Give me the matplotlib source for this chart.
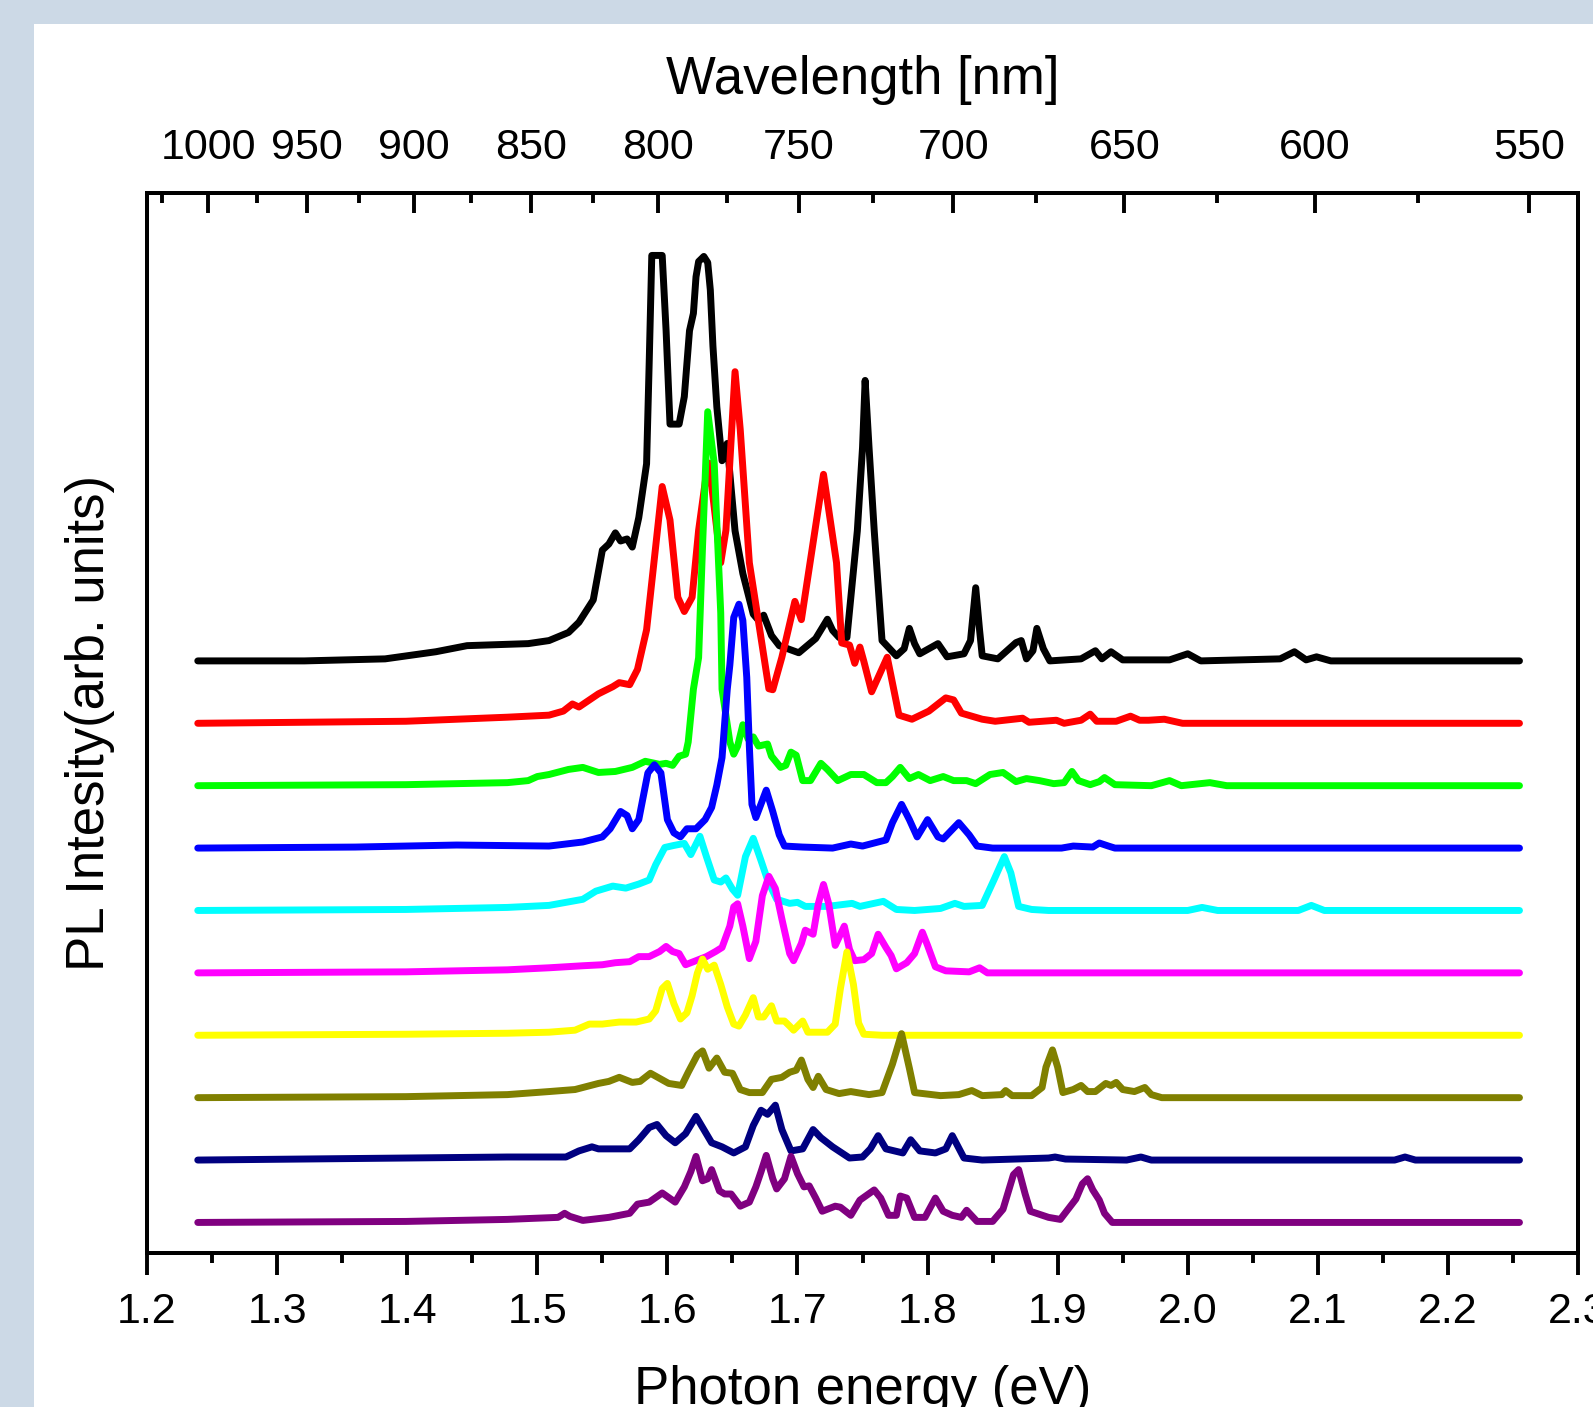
import matplotlib.pyplot as plt
from matplotlib.patches import Rectangle
from matplotlib.ticker import MultipleLocator, FormatStrFormatter

plt.rcParams['font.family'] = ['Liberation Sans', 'DejaVu Sans']

# PL spectra, photon energy (eV) vs intensity (arb. units, own baseline = 0)
black_e = [1.239, 1.321, 1.383, 1.422, 1.446, 1.493, 1.509, 1.524, 1.532, 1.543,
           1.550, 1.555, 1.560, 1.564, 1.569, 1.573, 1.578, 1.584, 1.586, 1.588,
           1.596, 1.599, 1.602, 1.609, 1.613, 1.617, 1.620, 1.622, 1.624, 1.628,
           1.631, 1.633, 1.635,
           1.638, 1.642, 1.646, 1.649, 1.652, 1.658, 1.666, 1.670, 1.674, 1.680,
           1.686, 1.701, 1.714, 1.723, 1.727, 1.732, 1.738, 1.746, 1.750, 1.752,
           1.755, 1.759, 1.765, 1.776, 1.782, 1.786, 1.790, 1.794, 1.808, 1.815,
           1.828, 1.833, 1.837, 1.840, 1.842, 1.854, 1.868, 1.872, 1.876, 1.881,
           1.884, 1.889, 1.894, 1.918, 1.929, 1.934, 1.941, 1.950, 1.986, 2.000,
           2.010, 2.071, 2.082, 2.091, 2.099, 2.110, 2.255]
black_i = [0, 0, 2, 9, 15, 17, 20, 28, 38, 60,
           109, 115, 126, 118, 120, 112, 141, 194, 293, 399,
           399, 325, 233, 233, 260, 325, 342, 378, 393, 398,
           392, 365, 310,
           250, 197, 214, 170, 128, 86, 46, 40, 45, 25,
           15, 8, 22, 41, 30, 23, 23, 128, 210, 276,
           210, 128, 20, 5, 12, 32, 17, 7, 17, 4,
           7, 20, 72, 30, 5, 2, 18, 20, 2, 10,
           32, 12, 0, 2, 10, 2, 9, 1, 1, 7,
           0, 2, 9, 1, 4, 0, 0]

red_e = [1.239, 1.399, 1.477, 1.509, 1.520, 1.527, 1.532, 1.547, 1.558, 1.563,
         1.571, 1.577, 1.584, 1.591, 1.596, 1.602, 1.608, 1.613, 1.619, 1.624,
         1.630, 1.632, 1.641, 1.645, 1.652, 1.656, 1.663, 1.671, 1.678, 1.681,
         1.688, 1.698, 1.703, 1.720, 1.730, 1.734, 1.740, 1.744, 1.748, 1.751,
         1.757, 1.769, 1.778, 1.788, 1.801, 1.814, 1.820, 1.826, 1.842, 1.852,
         1.873, 1.878, 1.899, 1.905, 1.918, 1.925, 1.930, 1.945, 1.956, 1.963,
         1.970, 1.982, 1.996, 2.255]
red_i = [0, 2, 6, 8, 12, 19, 16, 29, 36, 40,
         38, 53, 92, 174, 233, 200, 124, 110, 124, 190,
         246, 256, 158, 190, 346, 289, 158, 92, 34, 33,
         65, 120, 102, 245, 158, 79, 77, 59, 75, 61,
         31, 65, 8, 4, 12, 25, 23, 10, 4, 2,
         5, 1, 3, 0, 3, 9, 2, 2, 7, 3,
         3, 4, 0, 0]

green_e = [1.239, 1.399, 1.477, 1.493, 1.500, 1.509, 1.524, 1.535, 1.547, 1.560,
           1.573, 1.583, 1.594, 1.599, 1.604, 1.609, 1.614, 1.616, 1.620, 1.624,
           1.627, 1.631, 1.636, 1.641, 1.642, 1.648, 1.651, 1.654, 1.658, 1.662,
           1.666, 1.670, 1.677, 1.680, 1.687, 1.691, 1.695, 1.699, 1.704, 1.710,
           1.718, 1.723, 1.731, 1.741, 1.751, 1.761, 1.768, 1.773, 1.779, 1.786,
           1.793, 1.802, 1.812, 1.820, 1.830, 1.837, 1.848, 1.858, 1.868, 1.876,
           1.886, 1.897, 1.905, 1.911, 1.916, 1.925, 1.932, 1.936, 1.944, 1.972,
           1.986, 1.995, 2.017, 2.030, 2.255]
green_i = [0, 1, 3, 5, 9, 11, 16, 18, 13, 14,
           18, 24, 21, 22, 20, 29, 31, 43, 95, 126,
           235, 368, 317, 170, 95, 43, 31, 39, 60, 46,
           48, 39, 41, 29, 18, 20, 33, 30, 5, 5,
           22, 16, 5, 11, 11, 3, 3, 9, 18, 7,
           11, 5, 9, 5, 5, 2, 11, 13, 4, 7,
           5, 2, 3, 14, 5, 1, 4, 8, 1, 0,
           5, 0, 3, 0, 0]

blue_e = [1.239, 1.360, 1.438, 1.509, 1.535, 1.550, 1.556, 1.564, 1.569, 1.573,
          1.578, 1.585, 1.590, 1.595, 1.600, 1.605, 1.610, 1.615, 1.622, 1.629,
          1.634, 1.638, 1.642, 1.646, 1.648, 1.651, 1.655, 1.658, 1.661, 1.663,
          1.665, 1.668, 1.676, 1.681, 1.686, 1.690, 1.704, 1.727, 1.741, 1.750,
          1.768, 1.773, 1.780, 1.786, 1.792, 1.800, 1.808, 1.812, 1.824, 1.832,
          1.838, 1.850, 1.903, 1.912, 1.927, 1.932, 1.939, 1.944, 2.255]
blue_i = [0, 1, 3, 2, 6, 11, 19, 36, 32, 19,
          28, 74, 82, 74, 28, 15, 11, 19, 19, 28,
          40, 62, 89, 156, 180, 227, 240, 224, 168, 100,
          43, 30, 57, 36, 13, 2, 1, 0, 4, 2,
          8, 25, 43, 28, 11, 28, 11, 9, 25, 13,
          2, 0, 0, 2, 1, 5, 2, 0, 0]

cyan_e = [1.239, 1.399, 1.477, 1.509, 1.535, 1.545, 1.558, 1.568, 1.578, 1.586,
          1.591, 1.598, 1.605, 1.613, 1.618, 1.625, 1.630, 1.636, 1.641, 1.645,
          1.650, 1.654, 1.660, 1.666, 1.672, 1.677, 1.684, 1.694, 1.700, 1.706,
          1.723, 1.742, 1.748, 1.766, 1.776, 1.790, 1.810, 1.821, 1.828, 1.842,
          1.851, 1.859, 1.864, 1.870, 1.880, 1.893, 2.000, 2.011, 2.023, 2.085,
          2.095, 2.105, 2.255]
cyan_i = [0, 1, 3, 5, 11, 19, 24, 22, 26, 30,
          45, 62, 64, 66, 55, 73, 53, 30, 28, 32,
          21, 15, 53, 71, 49, 30, 11, 7, 8, 4,
          4, 7, 4, 9, 1, 0, 2, 7, 4, 5,
          30, 53, 37, 4, 1, 0, 0, 3, 0, 0,
          5, 0, 0]

magenta_e = [1.239, 1.399, 1.477, 1.509, 1.535, 1.550, 1.560, 1.571, 1.578, 1.586,
             1.594, 1.599, 1.604, 1.609, 1.614, 1.622, 1.630, 1.637, 1.642, 1.648,
             1.651, 1.654, 1.658, 1.663, 1.668, 1.673, 1.678, 1.683, 1.688, 1.694,
             1.697, 1.703, 1.706, 1.712, 1.716, 1.720, 1.724, 1.729, 1.736, 1.740,
             1.744, 1.751, 1.757, 1.762, 1.768, 1.772, 1.776, 1.784, 1.790, 1.796,
             1.800, 1.806, 1.814, 1.832, 1.840, 1.846, 2.255]
magenta_i = [0, 1, 3, 5, 7, 8, 10, 11, 16, 16,
             21, 26, 21, 19, 8, 12, 16, 21, 25, 46,
             65, 68, 46, 14, 31, 76, 95, 83, 53, 19,
             12, 29, 42, 38, 68, 87, 68, 27, 46, 23,
             12, 13, 19, 38, 25, 17, 4, 10, 19, 40,
             27, 6, 2, 1, 5, 0, 0]

yellow_e = [1.239, 1.399, 1.477, 1.509, 1.529, 1.540, 1.550, 1.563, 1.576, 1.586,
            1.591, 1.596, 1.600, 1.605, 1.610, 1.615, 1.619, 1.623, 1.627, 1.631,
            1.636, 1.641, 1.646, 1.651, 1.655, 1.660, 1.666, 1.670, 1.674, 1.680,
            1.684, 1.690, 1.694, 1.697, 1.704, 1.708, 1.723, 1.729, 1.733, 1.738,
            1.743, 1.747, 1.751, 1.765, 2.255]
yellow_i = [0, 1, 2, 3, 5, 11, 11, 13, 13, 16,
            24, 46, 51, 31, 16, 22, 39, 61, 75, 65,
            69, 50, 28, 11, 9, 20, 37, 18, 18, 29,
            14, 14, 9, 5, 14, 3, 3, 11, 46, 82,
            50, 12, 1, 0, 0]

olive_e = [1.239, 1.399, 1.477, 1.509, 1.529, 1.547, 1.555, 1.563, 1.573, 1.579,
           1.587, 1.594, 1.601, 1.611, 1.616, 1.623, 1.627, 1.632, 1.638, 1.644,
           1.650, 1.656, 1.663, 1.673, 1.680, 1.688, 1.694, 1.699, 1.703, 1.708,
           1.712, 1.716, 1.722, 1.732, 1.741, 1.755, 1.765, 1.773, 1.780, 1.786,
           1.790, 1.810, 1.824, 1.834, 1.842, 1.857, 1.860, 1.865, 1.880, 1.888,
           1.891, 1.896, 1.900, 1.904, 1.912, 1.918, 1.923, 1.929, 1.937, 1.941,
           1.945, 1.950, 1.959, 1.967, 1.972, 1.980, 2.255]
olive_i = [0, 1, 3, 6, 8, 14, 16, 20, 15, 16,
           24, 19, 14, 12, 25, 42, 46, 29, 39, 25,
           24, 8, 5, 5, 18, 20, 25, 27, 37, 18,
           10, 21, 8, 4, 6, 3, 5, 33, 63, 29,
           5, 2, 3, 7, 2, 3, 7, 2, 2, 10,
           30, 47, 30, 5, 8, 12, 6, 6, 14, 12,
           15, 8, 6, 10, 3, 0, 0]

navy_e = [1.239, 1.399, 1.477, 1.509, 1.522, 1.532, 1.542, 1.547, 1.571, 1.578,
          1.586, 1.592, 1.599, 1.606, 1.614, 1.622, 1.628, 1.634, 1.642, 1.651,
          1.660, 1.666, 1.672, 1.677, 1.683, 1.688, 1.695, 1.704, 1.712, 1.718,
          1.727, 1.740, 1.750, 1.756, 1.762, 1.768, 1.781, 1.787, 1.794, 1.806,
          1.814, 1.819, 1.828, 1.842, 1.893, 1.898, 1.906, 1.953, 1.964, 1.972,
          2.159, 2.167, 2.175, 2.255]
navy_i = [0, 2, 3, 3, 3, 9, 13, 11, 11, 20,
          32, 35, 24, 17, 26, 43, 30, 17, 13, 7,
          13, 34, 49, 45, 54, 30, 9, 11, 30, 22,
          13, 2, 3, 11, 24, 11, 7, 20, 9, 7,
          11, 24, 2, 0, 2, 3, 1, 0, 3, 0,
          0, 3, 0, 0]

purple_e = [1.239, 1.399, 1.477, 1.496, 1.516, 1.521, 1.525, 1.535, 1.555, 1.571,
            1.577, 1.586, 1.596, 1.606, 1.613, 1.618, 1.622, 1.627, 1.631, 1.634,
            1.640, 1.644, 1.649, 1.656, 1.663, 1.668, 1.672, 1.676, 1.681, 1.684,
            1.690, 1.695, 1.700, 1.705, 1.709, 1.714, 1.719, 1.729, 1.733, 1.741,
            1.748, 1.759, 1.764, 1.770, 1.776, 1.779, 1.784, 1.790, 1.798, 1.806,
            1.812, 1.819, 1.826, 1.830, 1.838, 1.850, 1.858, 1.866, 1.870, 1.875,
            1.879, 1.893, 1.902, 1.914, 1.919, 1.923, 1.927, 1.932, 1.936, 1.942,
            2.255]
purple_i = [0, 1, 3, 4, 5, 9, 6, 2, 5, 9,
            18, 20, 29, 20, 35, 50, 65, 41, 43, 52,
            31, 28, 28, 16, 20, 35, 50, 66, 43, 33,
            43, 65, 48, 35, 36, 24, 11, 16, 15, 7,
            22, 32, 24, 7, 7, 26, 24, 5, 5, 24,
            11, 7, 5, 12, 1, 1, 13, 47, 52, 28,
            11, 5, 3, 23, 38, 43, 32, 22, 9, 0,
            0]

spectra = [
    (black_e, black_i, '#000000'),
    (red_e, red_i, '#ff0000'),
    (green_e, green_i, '#00ff00'),
    (blue_e, blue_i, '#0000ff'),
    (cyan_e, cyan_i, '#00ffff'),
    (magenta_e, magenta_i, '#ff00ff'),
    (yellow_e, yellow_i, '#ffff00'),
    (olive_e, olive_i, '#808000'),
    (navy_e, navy_i, '#000080'),
    (purple_e, purple_i, '#800080'),
]
offset_step = 61.4

# top axis: wavelength ticks placed on the energy scale
top_major_pos = [1.2471, 1.3228, 1.4052, 1.4949, 1.5930, 1.7012, 1.8196, 1.9512, 2.0978, 2.2623]
top_major_lab = ['1000', '950', '900', '850', '800', '750', '700', '650', '600', '550']
top_minor_pos = [1.2113, 1.2843, 1.3630, 1.4491, 1.5428, 1.6456, 1.7581, 1.8833, 2.0222, 2.1770]

fig = plt.figure(figsize=(15.93, 14.07), dpi=100, facecolor='#ccd9e6')
fig.add_artist(Rectangle((0.0213, 0), 1.0, 0.983, transform=fig.transFigure,
                         facecolor='white', edgecolor='none', zorder=0))

ax = fig.add_axes([0.0923, 0.1095, 0.8983, 0.7533])
n = len(spectra)
for k, (e, inten, col) in enumerate(spectra):
    off = (n - 1 - k) * offset_step
    ax.plot(e, [v + off for v in inten], color=col, lw=5,
            solid_joinstyle='round', solid_capstyle='round', zorder=2 + k)

ax.set_xlim(1.2, 2.3)
ax.set_ylim(-30, 1013)
ax.set_yticks([])
ax.xaxis.set_major_locator(MultipleLocator(0.1))
ax.xaxis.set_minor_locator(MultipleLocator(0.05))
ax.xaxis.set_major_formatter(FormatStrFormatter('%.1f'))
ax.tick_params(axis='x', which='major', direction='out', length=16, width=2.8,
               labelsize=31, pad=12)
ax.tick_params(axis='x', which='minor', direction='out', length=7.5, width=2.8)

ax2 = ax.twiny()
ax2.set_xlim(ax.get_xlim())
ax2.set_xticks(top_major_pos, labels=top_major_lab)
ax2.set_xticks(top_minor_pos, minor=True)
ax2.tick_params(axis='x', which='major', direction='in', length=14.5, width=2.8,
                labelsize=31, pad=18)
ax2.tick_params(axis='x', which='minor', direction='in', length=7, width=2.8)

for a in (ax, ax2):
    for s in a.spines.values():
        s.set_linewidth(2.8)

fig.text(0.5414, 0.933, 'Wavelength [nm]', fontsize=38, ha='center', va='baseline')
fig.text(0.5414, 0.002, 'Photon energy (eV)', fontsize=38, ha='center', va='baseline')
fig.text(0.065, 0.486, 'PL Intesity(arb. units)', fontsize=38, rotation=90,
         rotation_mode='anchor', ha='center', va='baseline')

fig.savefig('out.png', dpi=100, facecolor=fig.get_facecolor())
